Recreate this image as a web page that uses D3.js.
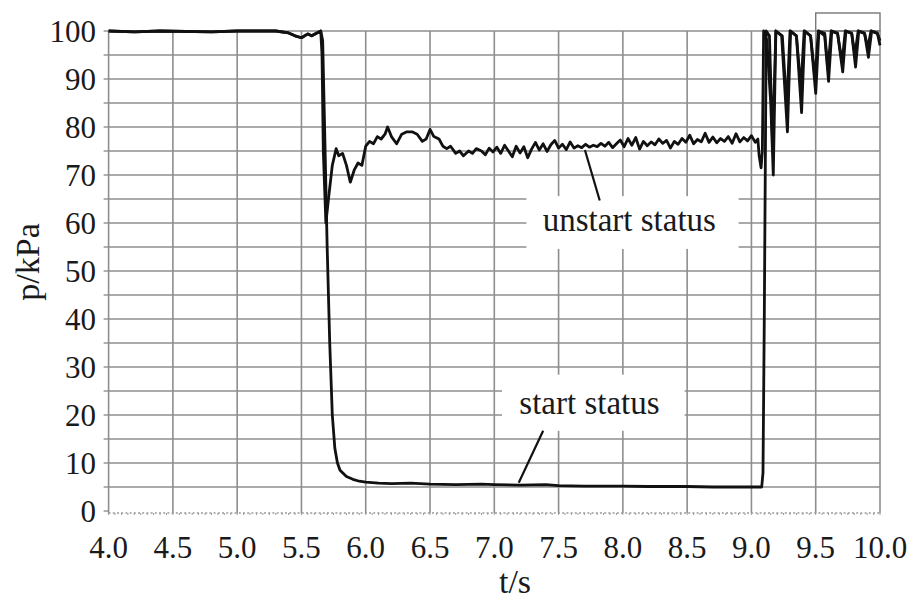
<!DOCTYPE html>
<html>
<head>
<meta charset="utf-8">
<script src="https://cdn.jsdelivr.net/npm/d3@7"></script>
<style>
body { margin: 0; background: #fff; }
svg { display: block; }
</style>
</head>
<body>
<div id="chart"></div>
<script>
// tick labels
const xTicks = [4.0, 4.5, 5.0, 5.5, 6.0, 6.5, 7.0, 7.5, 8.0, 8.5, 9.0, 9.5, 10.0]
const yTicks = [0, 10, 20, 30, 40, 50, 60, 70, 80, 90, 100]
const yGrid = [5, 10, 15, 20, 25, 30, 35, 40, 45, 50, 55, 60, 65, 70, 75, 80, 85, 90, 95, 100]

// pressure while the inlet starts  [t (s), p (kPa)]
const startStatus = [
    [4.0, 100], [4.2, 99.8], [4.4, 100], [4.8, 99.8], [5.0, 100], [5.3, 100], [5.4, 99.6],
    [5.45, 99], [5.5, 98.6], [5.55, 99.4], [5.58, 99], [5.62, 99.6], [5.65, 100],
    [5.665, 98], [5.68, 80], [5.70, 55], [5.72, 35], [5.74, 20], [5.76, 13], [5.78, 10],
    [5.80, 8.5], [5.85, 7.2], [5.90, 6.6], [5.95, 6.2], [6.0, 6.0], [6.1, 5.8], [6.2, 5.7],
    [6.35, 5.8], [6.5, 5.6], [6.7, 5.5], [6.9, 5.6], [7.0, 5.5], [7.2, 5.4], [7.4, 5.5],
    [7.5, 5.3], [7.7, 5.2], [8.0, 5.2], [8.2, 5.1], [8.5, 5.1], [8.7, 5.0], [9.0, 5.0],
    [9.08, 5.0], [9.09, 8], [9.10, 40], [9.115, 100], [9.14, 99], [9.165, 76], [9.19, 100],
    [9.24, 99], [9.275, 84], [9.30, 100], [9.35, 99], [9.385, 88], [9.41, 100], [9.46, 99],
    [9.495, 90], [9.52, 100], [9.57, 99.5], [9.595, 92], [9.62, 100], [9.67, 99.5],
    [9.705, 93.5], [9.73, 100], [9.78, 99.5], [9.805, 95], [9.83, 100], [9.88, 99.5],
    [9.905, 96.5], [9.93, 100], [9.98, 99.5], [10.0, 98]
]

// pressure while the inlet is unstarted  [t (s), p (kPa)]
const unstartStatus = [
    [4.0, 100], [4.2, 99.8], [4.4, 100], [4.8, 99.8], [5.0, 100], [5.3, 100], [5.4, 99.6],
    [5.45, 99], [5.5, 98.6], [5.55, 99.4], [5.58, 99], [5.62, 99.6], [5.65, 100],
    [5.66, 95], [5.67, 75], [5.69, 60], [5.71, 65], [5.74, 72], [5.77, 75.5], [5.79, 74],
    [5.82, 74.5], [5.85, 72], [5.88, 68.5], [5.91, 71], [5.94, 72.5], [5.97, 72],
    [6.0, 76], [6.03, 77], [6.06, 76.5], [6.09, 78], [6.12, 77.5], [6.15, 78.5], [6.17, 80],
    [6.2, 78], [6.24, 76.5], [6.28, 78.5], [6.32, 79], [6.36, 79], [6.4, 78.5], [6.44, 77],
    [6.47, 77.5], [6.5, 79.5], [6.53, 78], [6.57, 77.5], [6.6, 76], [6.63, 75.5], [6.66, 76],
    [6.7, 74.5], [6.73, 75], [6.76, 74], [6.8, 75], [6.83, 74.5], [6.86, 75.5],
    [6.90, 75.0], [6.93, 74.2], [6.96, 75.6], [6.99, 74.8], [7.02, 75.8], [7.05, 74.5],
    [7.08, 76.2], [7.11, 75.0], [7.14, 73.8], [7.17, 76.0], [7.20, 74.6], [7.23, 75.9],
    [7.26, 73.6], [7.29, 75.4], [7.32, 76.8], [7.35, 75.2], [7.38, 76.5], [7.41, 74.9],
    [7.44, 76.3], [7.47, 77.2], [7.50, 75.6], [7.53, 76.4], [7.56, 75.3], [7.59, 76.9],
    [7.62, 75.6], [7.65, 76.1], [7.68, 75.7], [7.71, 76.4], [7.74, 75.8], [7.77, 76.2],
    [7.80, 75.9], [7.83, 76.6], [7.86, 76.0], [7.89, 76.8], [7.92, 75.7], [7.95, 76.5],
    [7.98, 77.3], [8.01, 75.9], [8.04, 77.6], [8.07, 76.2], [8.10, 77.8], [8.13, 75.4],
    [8.16, 77.0], [8.19, 76.1], [8.22, 76.9], [8.25, 76.3], [8.28, 77.5], [8.31, 76.6],
    [8.34, 77.2], [8.37, 75.6], [8.40, 77.0], [8.43, 76.4], [8.46, 77.6], [8.49, 76.8],
    [8.52, 78.3], [8.55, 76.5], [8.58, 77.4], [8.61, 76.9], [8.64, 78.7], [8.67, 76.8],
    [8.70, 77.9], [8.73, 76.7], [8.76, 77.6], [8.79, 77.0], [8.82, 78.0], [8.85, 76.6],
    [8.88, 78.6], [8.91, 76.9], [8.94, 77.8], [8.97, 77.1], [9.00, 78.2], [9.03, 76.8],
    [9.05, 77.5], [9.06, 74.0], [9.075, 71.5], [9.085, 75], [9.095, 100], [9.12, 98],
    [9.15, 85], [9.17, 70], [9.19, 100], [9.235, 99], [9.28, 79], [9.305, 100], [9.35, 99],
    [9.39, 83], [9.415, 100], [9.46, 99], [9.50, 87], [9.525, 100], [9.57, 99], [9.60, 89.5],
    [9.625, 100], [9.67, 99.5], [9.71, 91.5], [9.735, 100], [9.78, 99.5], [9.81, 92.5],
    [9.835, 100], [9.88, 99.5], [9.91, 94.5], [9.935, 100], [9.98, 99.5], [10.0, 97]
]

// callouts: label, text anchor point, leader from -> to, blanking box (all in data units)
const callouts = [
    { label: "unstart status", at: [8.05, 58.3], from: [7.82, 64.7], to: [7.705, 75.2], box: [7.25, 8.9, 54.6, 65.6] },
    { label: "start status", at: [7.74, 20.3], from: [7.38, 16.7], to: [7.19, 5.9], box: [7.06, 8.48, 16.7, 28.4] }
]

const width = 912
const height = 601
const x = d3.scaleLinear().domain([4, 10]).range([108.6, 880])
const y = d3.scaleLinear().domain([0, 100]).range([511, 31])

const grid_color = "#8e8e8e"
const line_color = "#111"
const text_color = "#1a1a1a"
const serif = "'Liberation Serif', 'Times New Roman', serif"

const svg = d3.select("#chart").append("svg")
    .attr("width", width)
    .attr("height", height)

// grid
svg.append("g").selectAll("line").data(yGrid).join("line")
    .attr("x1", x(4)).attr("x2", x(10))
    .attr("y1", d => y(d)).attr("y2", d => y(d))
    .attr("stroke", grid_color).attr("stroke-width", 1.6)

svg.append("g").selectAll("line").data(xTicks).join("line")
    .attr("x1", d => x(d)).attr("x2", d => x(d))
    .attr("y1", y(100)).attr("y2", y(0) + 2)
    .attr("stroke", grid_color).attr("stroke-width", 1.6)

// y ticks (every 5)
svg.append("g").selectAll("line").data([0].concat(yGrid)).join("line")
    .attr("x1", x(4) - 5).attr("x2", x(4))
    .attr("y1", d => y(d)).attr("y2", d => y(d))
    .attr("stroke", grid_color).attr("stroke-width", 1.4)

// dotted x axis with minor ticks
svg.append("line")
    .attr("x1", x(4)).attr("x2", x(10))
    .attr("y1", y(0) + 2).attr("y2", y(0) + 2)
    .attr("stroke", "#9a9a9a").attr("stroke-width", 1.4)
    .attr("stroke-dasharray", "2,2.2")
svg.append("g").selectAll("line").data(d3.range(0, 121)).join("line")
    .attr("x1", d => x(4 + d * 0.05)).attr("x2", d => x(4 + d * 0.05))
    .attr("y1", y(0) + 2).attr("y2", y(0) + 4)
    .attr("stroke", "#9a9a9a").attr("stroke-width", 1)

// blank boxes behind the callout text
svg.append("g").selectAll("rect").data(callouts).join("rect")
    .attr("x", d => x(d.box[0])).attr("width", d => x(d.box[1]) - x(d.box[0]))
    .attr("y", d => y(d.box[3])).attr("height", d => y(d.box[2]) - y(d.box[3]))
    .attr("fill", "#fff")

// odd little frame above the top right corner
svg.append("rect")
    .attr("x", x(9.5)).attr("width", x(10) - x(9.5))
    .attr("y", 13).attr("height", y(100) - 13)
    .attr("fill", "none").attr("stroke", "#777").attr("stroke-width", 1.4)

// tick labels
svg.append("g").selectAll("text").data(yTicks).join("text")
    .attr("x", 96).attr("y", d => y(d)).attr("dy", "0.34em")
    .attr("text-anchor", "end").attr("font-size", 31)
    .style("font-family", serif).attr("fill", text_color)
    .text(d => d)

svg.append("g").selectAll("text").data(xTicks).join("text")
    .attr("x", d => x(d)).attr("y", 558)
    .attr("text-anchor", "middle").attr("font-size", 31)
    .style("font-family", serif).attr("fill", text_color)
    .text(d => d.toFixed(1))

// axis titles
svg.append("text")
    .attr("x", 515).attr("y", 593)
    .attr("text-anchor", "middle").attr("font-size", 34)
    .style("font-family", serif).attr("fill", text_color)
    .text("t/s")
svg.append("text")
    .attr("transform", "translate(39,262) rotate(-90)")
    .attr("text-anchor", "middle").attr("font-size", 34)
    .style("font-family", serif).attr("fill", text_color)
    .text("p/kPa")

// curves
const line = d3.line().x(d => x(d[0])).y(d => y(d[1]))
svg.append("path").datum(startStatus)
    .attr("d", line).attr("fill", "none")
    .attr("stroke", line_color).attr("stroke-width", 2.8).attr("stroke-linejoin", "round")
svg.append("path").datum(unstartStatus)
    .attr("d", line).attr("fill", "none")
    .attr("stroke", line_color).attr("stroke-width", 2.8).attr("stroke-linejoin", "round")

// callout text and leaders
svg.append("g").selectAll("line").data(callouts).join("line")
    .attr("x1", d => x(d.from[0])).attr("y1", d => y(d.from[1]))
    .attr("x2", d => x(d.to[0])).attr("y2", d => y(d.to[1]))
    .attr("stroke", line_color).attr("stroke-width", 2.2)
svg.append("g").selectAll("text").data(callouts).join("text")
    .attr("x", d => x(d.at[0])).attr("y", d => y(d.at[1]))
    .attr("text-anchor", "middle").attr("font-size", 33)
    .style("font-family", serif).attr("fill", text_color)
    .text(d => d.label)
</script>
</body>
</html>
